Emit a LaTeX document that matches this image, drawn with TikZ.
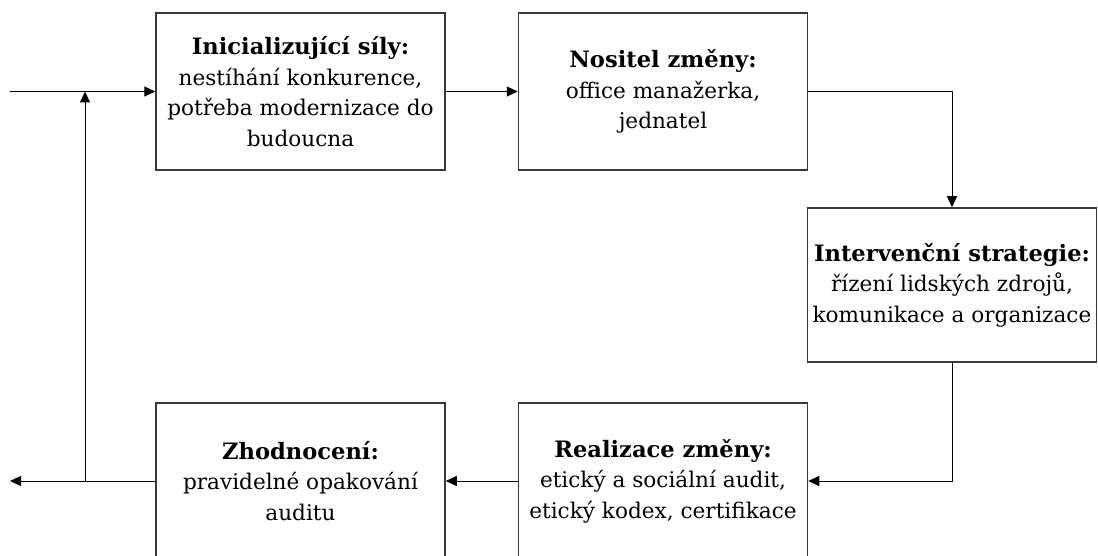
\documentclass[tikz,border=0pt]{standalone}
\usepackage{fontspec}
\setmainfont{DejaVu Serif}
\usetikzlibrary{arrows.meta}
\newcommand{\hd}[1]{{\fontsize{22.6}{30.5}\selectfont\textbf{#1}}}
\begin{document}
\begin{tikzpicture}[x=1pt,y=-1pt,
  box/.style={draw=black!78, line width=1.5pt, fill=white, align=center, inner sep=0pt,
    minimum width=289pt, font=\fontsize{21.6}{30.5}\selectfont},
  arr/.style={draw=black, line width=1pt, -{Triangle[length=11pt,width=10pt]}}]
\fill[white] (0,0) rectangle (1098,556);
\useasboundingbox (0,0) rectangle (1098,556);
\node[box, minimum height=157pt] (b1) at (300.5,91.5) {\hd{Inicializující síly:}\\ nestíhání konkurence,\\ potřeba modernizace do\\ budoucna};
\node[box, minimum height=157pt] (b2) at (663,91.5) {\hd{Nositel změny:}\\ office manažerka,\\ jednatel};
\node[box, minimum height=154pt] (b3) at (952,285) {\hd{Intervenční strategie:}\\ řízení lidských zdrojů,\\ komunikace a organizace};
\node[box, minimum height=156pt] (b4) at (663,481) {\hd{Realizace změny:}\\ etický a sociální audit,\\ etický kodex, certifikace};
\node[box, minimum height=156pt] (b5) at (300.5,481) {\hd{Zhodnocení:}\\ pravidelné opakování\\ auditu};
\coordinate (start) at (10,91.5);
\coordinate (end) at (10,481);
\coordinate (j) at (85,481);
\coordinate (k) at (85,91.5);
\draw[arr] (start) -- (b1.west);
\draw[arr] (b1.east) -- (b2.west);
\draw[arr] (b2.east) -| (b3.north);
\draw[arr] (b3.south) |- (b4.east);
\draw[arr] (b4.west) -- (b5.east);
\draw[arr] (b5.west) -- (end);
\draw[arr] (j) -- (k);
\end{tikzpicture}
\end{document}
